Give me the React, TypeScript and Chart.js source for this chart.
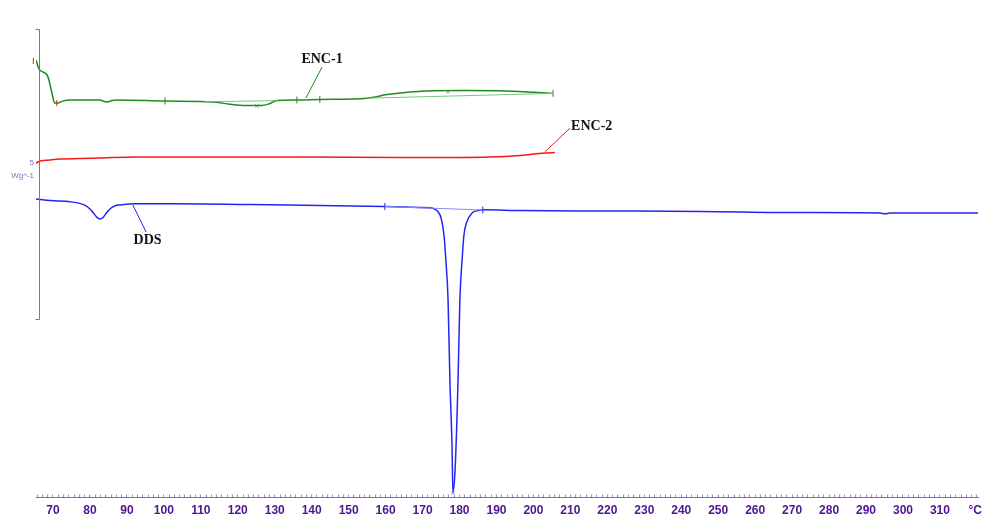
import React, { useEffect, useRef } from 'react';
import { Chart, registerables } from 'chart.js';

Chart.register(...registerables);

// ---- data (temperature in °C, heat flow in W/g, arbitrary offset per curve) ----
const enc1T = [65.4, 66.2, 67.3, 68.4, 68.9, 69.7, 70.5, 71.4, 72.4, 74.6, 82.7, 83.8, 84.6, 86.0, 87.3, 100.3, 113.3, 117.4, 121.9, 126.5, 128.7, 130.6, 136.0, 142.2, 155.0, 160.4, 166.6, 172.8, 181.4, 190.9, 199.9, 205.3];
const enc1W = [7.575, 7.35, 7.275, 7.2, 7.075, 6.75, 6.5, 6.5, 6.54, 6.575, 6.575, 6.54, 6.525, 6.56, 6.575, 6.55, 6.525, 6.475, 6.4375, 6.4375, 6.4875, 6.5625, 6.575, 6.59, 6.62, 6.71, 6.775, 6.805, 6.81, 6.805, 6.77, 6.74];

const enc1BaseT = [111.1, 130.6, null, 155.0, 205.3];
const enc1BaseW = [6.53, 6.56, null, 6.62, 6.74];
const enc1LimitT = [100.3, 136.0, 142.2, 205.3];
const enc1LimitW = [6.55, 6.575, 6.59, 6.74];
const enc1PeakT = [125.2, 176.9];
const enc1PeakW = [6.425, 6.775];
const enc1StartT = [64.67, 71.0];
const enc1StartW = [7.55, 6.5];

const enc2T = [65.4, 66.5, 69.2, 71.9, 77.3, 82.7, 92.7, 109.8, 136.8, 163.9, 180.1, 188.2, 196.4, 203.1, 205.8];
const enc2W = [5.0, 5.05, 5.075, 5.1, 5.11, 5.125, 5.15, 5.15, 5.15, 5.14, 5.14, 5.15, 5.19, 5.25, 5.26];

const ddsT = [65.4, 69.2, 74.6, 77.3, 78.7, 80.0, 81.1, 81.9, 82.7, 83.5, 84.3, 85.4, 86.8, 88.1, 92.2, 103.0, 123.3, 142.2, 159.8, 169.3, 172.0, 173.4, 174.2, 175.0, 175.8, 176.3, 176.9, 177.4, 178.0, 178.2, 178.8, 179.6, 180.1, 180.7, 181.2, 182.0, 183.4, 185.0, 186.9, 196.4, 218.0, 245.1, 272.1, 293.8, 295.1, 296.5, 320.3];
const ddsW = [4.1, 4.06, 4.03, 3.99, 3.94, 3.85, 3.73, 3.64, 3.6, 3.63, 3.73, 3.85, 3.93, 3.95, 3.98, 3.98, 3.96, 3.94, 3.91, 3.89, 3.88, 3.84, 3.78, 3.63, 3.2, 2.58, 1.58, -0.43, -2.18, -3.23, -2.68, -0.43, 1.58, 2.58, 3.2, 3.53, 3.75, 3.81, 3.83, 3.81, 3.8, 3.79, 3.76, 3.75, 3.73, 3.75, 3.75];
const ddsBaseT = [159.8, 186.3];
const ddsBaseW = [3.9125, 3.825];
const ddsLimitT = [159.8, 186.3];
const ddsLimitW = [3.9125, 3.825];
const ddsPeakT = [178.2];
const ddsPeakW = [-3.25];

// ---- axes ----
const xMajorTicks = [70, 80, 90, 100, 110, 120, 130, 140, 150, 160, 170, 180, 190, 200, 210, 220, 230, 240, 250, 260, 270, 280, 290, 300, 310, 320];
const xTickLabels = ['70', '80', '90', '100', '110', '120', '130', '140', '150', '160', '170', '180', '190', '200', '210', '220', '230', '240', '250', '260', '270', '280', '290', '300', '310', '°C '];
const xMinorPerMajor = 7;
const yTicks = [5];
const yTickLabels = ['5'];
const yUnit = 'Wg^-1';
const yAxisSpan = [1.1, 8.35];

// ---- callouts ----
const calloutText = ['ENC-1', 'ENC-2', 'DDS'];
const calloutFromT = [138.45, 203.1, 91.6];
const calloutFromW = [6.625, 5.28, 3.95];
const calloutToT = [142.8, 209.9, 95.2];
const calloutToW = [7.4, 5.87, 3.275];
const calloutTextT = [142.8, 210.2, 95.6];
const calloutTextW = [7.6, 5.925, 3.075];

const GREEN = '#1f8a1f';
const GREEN_LIGHT = '#7cc47c';
const RED = '#f41a1a';
const BLUE = '#2424f5';
const BLUE_LIGHT = '#8a8af8';
const AXIS = '#8466c4';
const XLAB = '#4e1590';
const YLAB = '#8a6bc8';
const calloutColor = [GREEN, RED, BLUE];
const calloutAlign: CanvasTextAlign[] = ['center', 'left', 'center'];

const pts = (t: (number | null)[], w: (number | null)[]) =>
  t.map((x, i) => ({ x: x as number, y: w[i] as number }));

const xTickValues: number[] = [];
xMajorTicks.forEach((m, i) => {
  if (i === 0) {
    for (let j = 3; j >= 1; j--) xTickValues.push(m - (j * 10) / xMinorPerMajor);
  }
  xTickValues.push(m);
  if (i < xMajorTicks.length - 1) {
    for (let j = 1; j < xMinorPerMajor; j++) xTickValues.push(m + (j * 10) / xMinorPerMajor);
  }
});

const decorPlugin = {
  id: 'decor',
  afterDraw(chart: any) {
    const { ctx, chartArea, scales } = chart;
    const x = scales.x;
    const y = scales.y;
    ctx.save();
    // left vertical axis (partial)
    ctx.strokeStyle = AXIS;
    ctx.lineWidth = 1;
    const ax = Math.floor(chartArea.left + 3) + 0.5;
    const yt = Math.round(y.getPixelForValue(yAxisSpan[1])) + 0.5;
    const yb = Math.round(y.getPixelForValue(yAxisSpan[0])) + 0.5;
    ctx.beginPath();
    ctx.moveTo(ax - 4, yt);
    ctx.lineTo(ax, yt);
    ctx.lineTo(ax, yb);
    ctx.lineTo(ax - 4, yb);
    ctx.stroke();
    // unit label
    ctx.fillStyle = YLAB;
    ctx.font = '8px "Liberation Sans"';
    ctx.textAlign = 'right';
    ctx.textBaseline = 'middle';
    ctx.fillText(yUnit, chartArea.left - 2, y.getPixelForValue(yTicks[0]) + 13);
    // callouts
    calloutText.forEach((txt, i) => {
      ctx.strokeStyle = calloutColor[i];
      ctx.lineWidth = 1;
      ctx.beginPath();
      ctx.moveTo(x.getPixelForValue(calloutFromT[i]), y.getPixelForValue(calloutFromW[i]));
      ctx.lineTo(x.getPixelForValue(calloutToT[i]), y.getPixelForValue(calloutToW[i]));
      ctx.stroke();
      ctx.fillStyle = '#111111';
      ctx.font = 'bold 14px "Liberation Serif"';
      ctx.textAlign = calloutAlign[i];
      ctx.textBaseline = 'middle';
      ctx.fillText(txt, x.getPixelForValue(calloutTextT[i]), y.getPixelForValue(calloutTextW[i]));
    });
    ctx.restore();
  },
};

export default function App() {
  const ref = useRef<HTMLCanvasElement>(null);
  useEffect(() => {
    if (!ref.current) return;
    const curve = (data: any, color: string, width = 1.5) => ({
      data,
      borderColor: color,
      backgroundColor: color,
      borderWidth: width,
      pointRadius: 0,
      fill: false,
      cubicInterpolationMode: 'monotone',
      spanGaps: false,
    });
    const marks = (data: any, color: string, style: string, radius: number, rotation = 0) => ({
      data,
      showLine: false,
      borderColor: color,
      backgroundColor: color,
      borderWidth: 1,
      pointStyle: style,
      pointRadius: radius,
      pointRotation: rotation,
      clip: false,
    });
    const chart = new Chart(ref.current, {
      type: 'line',
      data: {
        datasets: [
          curve(pts(enc1BaseT, enc1BaseW), GREEN_LIGHT, 1),
          curve(pts(ddsBaseT, ddsBaseW), BLUE_LIGHT, 1),
          curve(pts(enc1T, enc1W), GREEN),
          curve(pts(enc2T, enc2W), RED),
          curve(pts(ddsT, ddsW), BLUE),
          marks(pts(enc1LimitT, enc1LimitW), GREEN, 'line', 3.5, 90),
          marks(pts(enc1PeakT, enc1PeakW), GREEN_LIGHT, 'crossRot', 2.5),
          marks(pts(enc1StartT, enc1StartW), RED, 'line', 3, 90),
          marks(pts(ddsLimitT, ddsLimitW), BLUE, 'line', 3.5, 90),
          marks(pts(ddsPeakT, ddsPeakW), BLUE_LIGHT, 'crossRot', 2.5),
        ] as any,
      },
      options: {
        responsive: false,
        animation: false,
        events: [],
        layout: { padding: { left: 0, right: 9, top: 23, bottom: 0 } },
        plugins: { legend: { display: false }, tooltip: { enabled: false } },
        scales: {
          x: {
            type: 'linear',
            min: 65.4,
            max: 320.3,
            afterBuildTicks: (s: any) => {
              s.ticks = xTickValues.map((v) => ({ value: v }));
            },
            afterFit: (s: any) => {
              s.height = 22.5;
              s.paddingLeft = 0;
              s.paddingRight = 0;
            },
            border: { display: true, color: AXIS, width: 1 },
            grid: { display: true, drawOnChartArea: false, drawTicks: true, tickLength: -3, color: '#a48ad6', tickWidth: 1 },
            ticks: {
              autoSkip: false,
              maxRotation: 0,
              minRotation: 0,
              padding: 9,
              color: XLAB,
              font: { family: '"Liberation Sans"', size: 12, weight: 'bold' },
              callback: (v: any) => {
                const i = xMajorTicks.findIndex((m) => Math.abs(m - Number(v)) < 1e-6);
                return i >= 0 ? xTickLabels[i] : '';
              },
            },
          },
          y: {
            type: 'linear',
            min: -3.3625,
            max: 8.5,
            afterBuildTicks: (s: any) => {
              s.ticks = yTicks.map((v) => ({ value: v }));
            },
            afterFit: (s: any) => {
              s.width = 36;
              s.paddingTop = 0;
              s.paddingBottom = 0;
            },
            border: { display: false },
            grid: { display: false, drawTicks: false },
            ticks: {
              padding: 2,
              color: YLAB,
              font: { family: '"Liberation Sans"', size: 8 },
              callback: (v: any) => {
                const i = yTicks.findIndex((m) => Math.abs(m - Number(v)) < 1e-6);
                return i >= 0 ? yTickLabels[i] : '';
              },
            },
          },
        },
      } as any,
      plugins: [decorPlugin],
    });
    return () => chart.destroy();
  }, []);
  return (
    <div style={{ position: 'absolute', left: 0, top: 0, width: 987, height: 520, background: '#ffffff' }}>
      <canvas ref={ref} width={987} height={520} style={{ display: 'block' }} />
    </div>
  );
}
